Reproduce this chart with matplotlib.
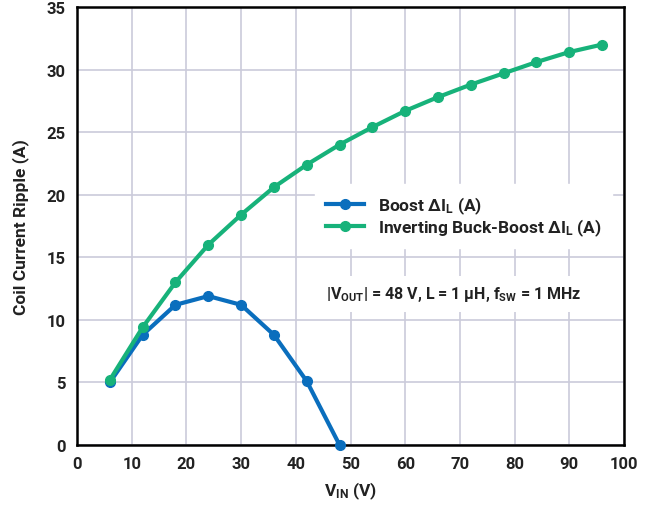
import matplotlib
matplotlib.use("Agg")
import matplotlib.pyplot as plt

boost_x = [6, 12, 18, 24, 30, 36, 42, 48]
boost_y = [5.0, 8.8, 11.2, 11.9, 11.2, 8.8, 5.1, 0.0]
inv_x = [6, 12, 18, 24, 30, 36, 42, 48, 54, 60, 66, 72, 78, 84, 90, 96]
inv_y = [5.2, 9.4, 13.0, 16.0, 18.4, 20.6, 22.4, 24.0, 25.4, 26.7, 27.8, 28.8, 29.7, 30.6, 31.4, 32.0]
xticks = [0, 10, 20, 30, 40, 50, 60, 70, 80, 90, 100]
yticks = [0, 5, 10, 15, 20, 25, 30, 35]

plt.rcParams['font.family'] = ['Roboto', 'DejaVu Sans']
plt.rcParams['font.weight'] = 'bold'
plt.rcParams['mathtext.fontset'] = 'custom'
plt.rcParams['mathtext.rm'] = 'Roboto:bold'
plt.rcParams['mathtext.bf'] = 'Roboto:bold'
plt.rcParams['mathtext.it'] = 'Roboto:bold'

fig = plt.figure(figsize=(6.51, 5.06), dpi=100)
ax = fig.add_axes([77/651, 1-446/506, (624-77)/651, (446-8)/506])

blue = "#0A6EBD"
green = "#17B27A"
txt = "#222222"
ax.plot(boost_x, boost_y, color=blue, lw=3, marker='o', ms=7, label=r'Boost ΔI$_{\mathbf{L}}$ (A)', zorder=3, clip_on=False)
ax.plot(inv_x, inv_y, color=green, lw=3, marker='o', ms=7, label=r'Inverting Buck-Boost ΔI$_{\mathbf{L}}$ (A)', zorder=4, clip_on=False)

ax.set_xlim(0, 100)
ax.set_ylim(0, 35)
ax.set_xticks(xticks)
ax.set_yticks(yticks)
ax.grid(True, color="#CBCBDA", lw=1.2)
ax.set_axisbelow(True)
ax.tick_params(length=0, labelsize=12, colors=txt, pad=8)
for lab in ax.get_xticklabels() + ax.get_yticklabels():
    lab.set_fontweight('bold')
for s in ax.spines.values():
    s.set_linewidth(1.8)
    s.set_color("black")

ax.set_xlabel(r'V$_{\mathbf{IN}}$ (V)', fontsize=12.5, fontweight='bold', color=txt, labelpad=6)
ax.set_ylabel('Coil Current Ripple (A)', fontsize=12.5, fontweight='bold', color=txt, labelpad=13)

leg = ax.legend(loc='upper left', bbox_to_anchor=(0.42, 0.615), frameon=True, fancybox=False,
                edgecolor='white', facecolor='white', framealpha=1, fontsize=12.5,
                handlelength=2.2, borderpad=0.6, labelspacing=0.0, handletextpad=0.8)
for t in leg.get_texts():
    t.set_fontweight('bold')
    t.set_color(txt)

ax.text(0.455, 0.345, r'|V$_{\mathbf{OUT}}$| = 48 V, L = 1 μH, f$_{\mathbf{SW}}$ = 1 MHz', transform=ax.transAxes,
        fontsize=11.5, fontweight='bold', color=txt, va='center', ha='left',
        bbox=dict(facecolor='white', edgecolor='none', pad=6), zorder=5)

fig.savefig("out.png", dpi=100)
